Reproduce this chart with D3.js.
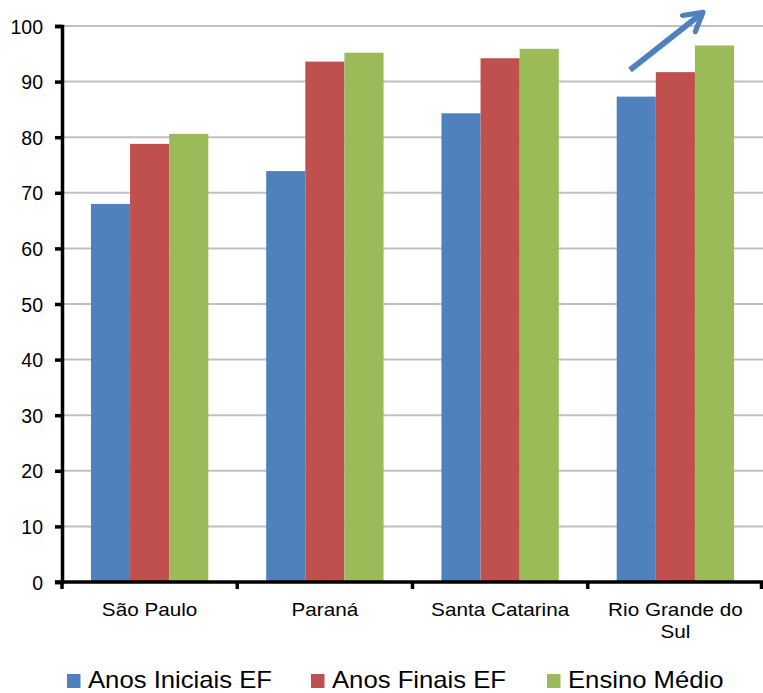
<!DOCTYPE html>
<html><head><meta charset="utf-8">
<script src="https://cdn.jsdelivr.net/npm/d3@7"></script>
<style>body{margin:0;background:#fff}svg{display:block}text{font-family:"Liberation Sans",Arial,sans-serif}</style>
</head><body>
<script>
const categories = ["São Paulo", "Paraná", "Santa Catarina", "Rio Grande do Sul"];
const seriesNames = ["Anos Iniciais EF", "Anos Finais EF", "Ensino Médio"];
const anosIniciais = [68.0, 73.9, 84.3, 87.3];
const anosFinais = [78.8, 93.6, 94.2, 91.7];
const ensinoMedio = [80.6, 95.2, 95.9, 96.5];
const colors = ["#4F81BD", "#C0504D", "#9BBB59"];
const yTicks = [0,10,20,30,40,50,60,70,80,90,100];

const W = 763, H = 693;
const m = {l: 62, r: 0, t: 26, b: 111};
const svg = d3.select("body").append("svg").attr("width", W).attr("height", H);
const x = d3.scaleBand().domain(categories).range([m.l, W - m.r]).paddingInner(0).paddingOuter(0);
const y = d3.scaleLinear().domain([0, 100]).range([H - m.b, m.t]);
const xs = d3.scaleBand().domain(seriesNames).range([0, x.bandwidth()]).paddingInner(0).paddingOuter(0.74);

// gridlines
svg.append("g").selectAll("line").data(yTicks.filter(d => d > 0)).join("line")
  .attr("x1", m.l).attr("x2", W).attr("y1", d => y(d)).attr("y2", d => y(d))
  .attr("stroke", "#c0c0c0").attr("stroke-width", 2);

const data = [anosIniciais, anosFinais, ensinoMedio];
data.forEach((vals, si) => {
  svg.append("g").selectAll("rect").data(vals).join("rect")
    .attr("x", (d, i) => x(categories[i]) + xs(seriesNames[si]))
    .attr("width", xs.bandwidth())
    .attr("y", d => y(d)).attr("height", d => y(0) - y(d))
    .attr("fill", colors[si]);
});

// y axis
const yAxis = d3.axisLeft(y).tickValues(yTicks).tickSize(7).tickPadding(12);
const gy = svg.append("g").attr("transform", `translate(${m.l},0)`).call(yAxis);
gy.select(".domain").attr("stroke", "#000").attr("stroke-width", 3.5);
gy.selectAll(".tick line").attr("stroke", "#000").attr("stroke-width", 3.5);
gy.selectAll("text").attr("font-size", 19.5).attr("fill", "#000").attr("dy", "0.36em").attr("font-family", "Liberation Sans, Arial, sans-serif");

// x axis
const gx = svg.append("g").attr("transform", `translate(0,${y(0)})`);
gx.append("line").attr("x1", m.l - 7).attr("x2", W).attr("y1", 0).attr("y2", 0).attr("stroke", "#000").attr("stroke-width", 3.5);
const bounds = categories.map(c => x(c)).concat([W - 1.5]);
gx.selectAll(".xt").data(bounds).join("line")
  .attr("x1", d => d).attr("x2", d => d).attr("y1", 0).attr("y2", 7)
  .attr("stroke", "#000").attr("stroke-width", 3.5);
const labelLines = [["São Paulo"], ["Paraná"], ["Santa Catarina"], ["Rio Grande do", "Sul"]];
categories.forEach((c, i) => {
  const cx = x(c) + x.bandwidth() / 2;
  labelLines[i].forEach((ln, j) => {
    gx.append("text").attr("transform", `translate(${cx},${34 + j * 22}) scale(1.17,1)`)
      .attr("text-anchor", "middle").attr("font-size", 17.7).attr("fill", "#000").text(ln);
  });
});

// legend
const legX = [67, 311, 547];
seriesNames.forEach((s, i) => {
  svg.append("rect").attr("x", legX[i]).attr("y", 674).attr("width", 13.5).attr("height", 14).attr("fill", colors[i]);
  svg.append("text").attr("transform", `translate(${legX[i] + 21},688) scale(1.07,1)`)
    .attr("font-size", 24).attr("fill", "#000").text(s);
});

// arrow
svg.append("defs").append("marker").attr("id", "ah").attr("viewBox", "0 0 10 10")
  .attr("refX", 7).attr("refY", 5).attr("markerWidth", 4.3).attr("markerHeight", 4.3).attr("orient", "auto")
  .append("path").attr("d", "M1,1 L8,5 L1,9").attr("fill", "none").attr("stroke", "#4F81BD").attr("stroke-width", 2).attr("stroke-linecap", "round").attr("stroke-linejoin", "round");
svg.append("line").attr("x1", 630).attr("y1", 70).attr("x2", 701).attr("y2", 14)
  .attr("stroke", "#4F81BD").attr("stroke-width", 6).attr("marker-end", "url(#ah)");
</script>
</body></html>
